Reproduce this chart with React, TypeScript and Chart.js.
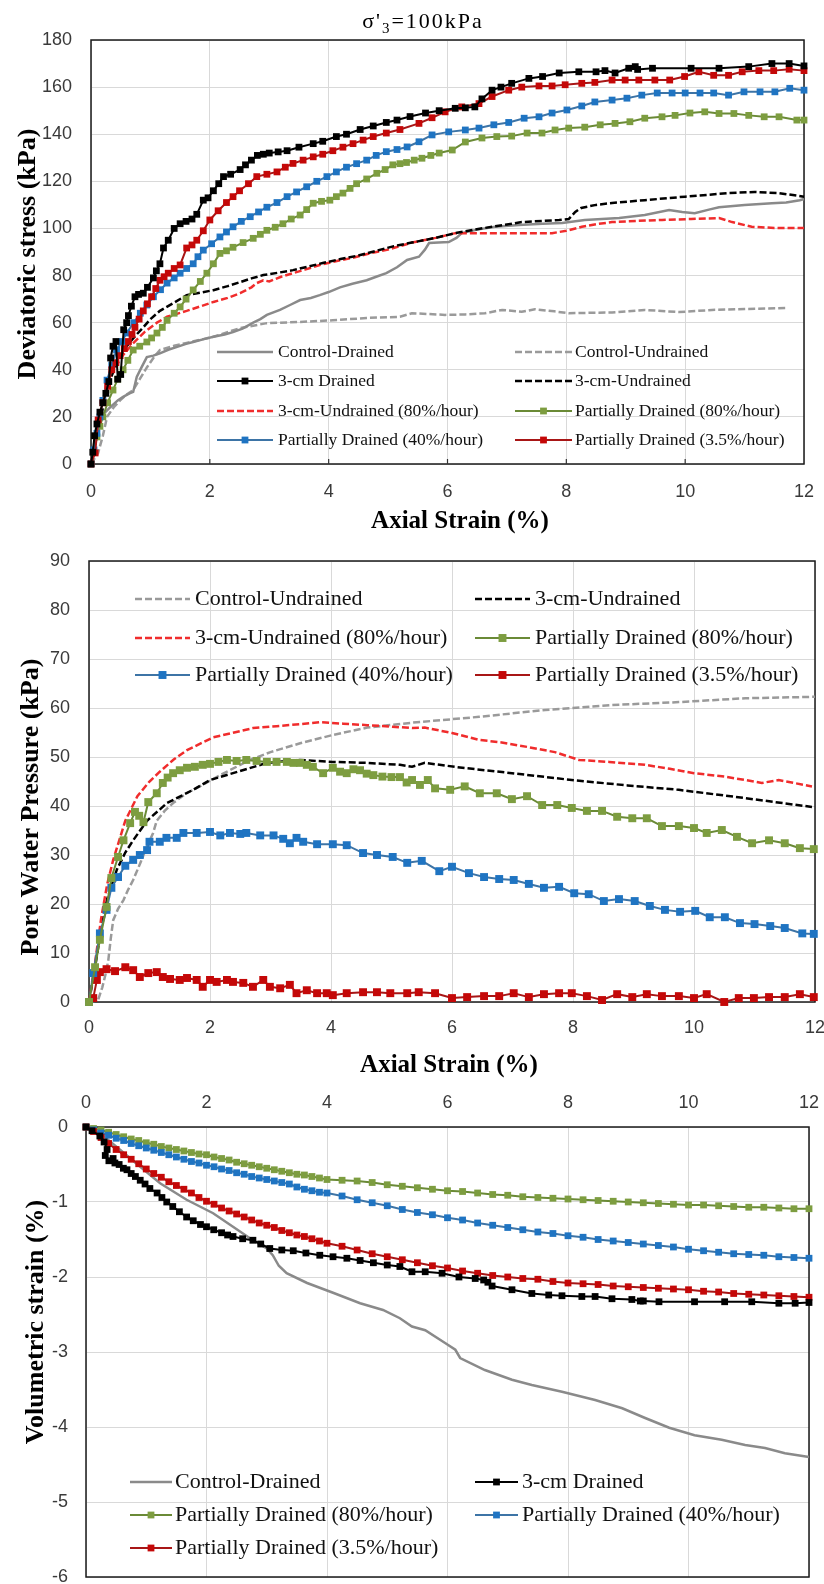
import { useEffect, useRef } from "react";
import { Chart, registerables } from "chart.js";

Chart.register(...registerables);

type Pt = [number, number];

// ---------------- Panel 1: Deviatoric stress (kPa) vs Axial strain (%) ----------------
const devControlDrained: Pt[] = [[0,0],[0.05,8],[0.1,18.7],[0.2,21],[0.32,24],[0.45,27],[0.54,28.5],[0.65,30],[0.71,30.6],[0.77,37],[0.85,41],[0.94,45.4],[1.05,46],[1.16,47],[1.3,48.5],[1.45,49.7],[1.6,51],[1.72,51.8],[1.9,53],[2.06,54],[2.25,55],[2.39,56],[2.55,57.5],[2.73,60],[2.85,61.5],[2.96,63.3],[3.18,65.4],[3.35,67.5],[3.52,69.6],[3.7,70.5],[3.85,71.7],[4.0,73],[4.19,75],[4.4,76.5],[4.64,78],[4.8,79.5],[4.97,81],[5.15,83.5],[5.32,86.6],[5.52,88],[5.62,91],[5.69,93.8],[5.85,94],[6.02,94.2],[6.15,96],[6.24,98],[6.5,99.5],[6.8,100.7],[7.2,101.5],[7.6,102],[7.93,102.3],[8.31,103.6],[8.6,104],[8.89,104.4],[9.32,105.7],[9.73,107.8],[9.95,107],[10.16,106.5],[10.4,108],[10.57,109],[11.0,110],[11.46,110.7],[11.7,111],[11.93,112],[12,112.5]];
const devControlUndrained: Pt[] = [[0,0],[0.12,4.7],[0.2,12],[0.27,20],[0.38,24],[0.49,27],[0.6,29.5],[0.71,31.4],[0.82,36],[0.94,41],[1.05,45],[1.16,48.4],[1.4,50.2],[1.61,51.4],[2.06,54],[2.51,57.7],[2.96,59.8],[3.52,60.3],[4.07,61],[4.64,62],[5.2,62.5],[5.4,64],[5.96,63.3],[6.3,63.5],[6.63,64],[6.92,65.4],[7.25,64.6],[7.47,65.7],[7.8,64.8],[8.04,64],[8.4,64.2],[8.77,64.3],[9.32,65.4],[9.9,64.5],[10.45,65.4],[11.0,65.8],[11.72,66.2]];
const dev3cmDrained: Pt[] = [[0,0],[0.03,5],[0.06,12],[0.1,17],[0.15,22],[0.2,26],[0.25,30],[0.3,35],[0.33,45],[0.37,50],[0.42,52],[0.45,36],[0.5,38],[0.55,57],[0.6,60],[0.63,63],[0.68,67],[0.74,71],[0.8,72],[0.88,72.5],[0.95,75],[1.05,79],[1.1,82],[1.16,85],[1.22,91.7],[1.3,95],[1.4,100],[1.5,102],[1.6,103],[1.7,104],[1.78,106],[1.89,112],[1.97,113],[2.06,116],[2.15,119],[2.23,122],[2.35,123],[2.51,125],[2.6,127],[2.7,129],[2.8,131],[2.9,131.5],[3.0,132],[3.15,132.5],[3.3,133],[3.5,134.5],[3.74,136],[3.9,137],[4.13,139],[4.3,140],[4.53,142],[4.75,143.5],[4.97,145],[5.15,146],[5.37,147.5],[5.63,149],[5.86,150],[6.13,151],[6.3,151.2],[6.46,151.6],[6.58,155],[6.75,158.7],[6.9,160],[7.08,161.6],[7.37,163.7],[7.6,164.5],[7.88,166],[8.21,166.5],[8.5,166.5],[8.65,167],[8.82,166],[9.05,168],[9.16,168.7],[9.2,167.5],[9.45,168],[10.1,168],[10.57,168],[11.07,168.7],[11.46,170],[11.75,170],[12,169]];
const dev3cmUndrained: Pt[] = [[0,0],[0.1,12],[0.2,24],[0.3,34],[0.4,41],[0.5,46],[0.6,50],[0.75,54.5],[0.88,58],[1.0,61.5],[1.16,65],[1.4,68.5],[1.61,71.7],[1.85,72.8],[2.06,73.8],[2.3,75.5],[2.51,77.2],[2.7,78.8],[2.9,80.2],[3.15,81.2],[3.4,82.3],[3.65,83.8],[3.9,85.3],[4.2,87],[4.5,88.5],[4.8,90.5],[5.1,92.5],[5.4,94],[5.8,96],[6.13,98],[6.45,99.5],[6.75,100.7],[7.0,101.7],[7.25,102.7],[7.6,103.2],[7.88,103.6],[8.04,104],[8.15,107],[8.25,108.7],[8.5,110],[8.77,110.8],[9.32,112],[10.0,113.5],[10.73,115],[11.17,115.5],[11.58,115],[12,113.5]];
const dev3cmUndrained80: Pt[] = [[0,0],[0.1,15],[0.2,27],[0.35,38],[0.5,45],[0.7,51],[0.9,56],[1.11,60],[1.28,62.5],[1.61,65],[1.85,67],[2.06,68.8],[2.3,70.5],[2.51,72.5],[2.7,75],[2.79,76.8],[2.9,78],[3.0,77.5],[3.2,79.5],[3.4,81],[3.6,82.5],[3.85,84.5],[4.1,86],[4.4,87.5],[4.7,89.5],[5.0,91],[5.4,94],[5.8,96],[6.13,98],[6.5,98],[6.8,98],[7.3,98],[7.76,98],[8.0,99],[8.26,100.7],[8.5,101.8],[8.77,102.7],[9.2,103.2],[9.61,103.6],[10.1,104],[10.57,104.4],[10.79,102.7],[11.12,100.7],[11.5,100.2],[12,100.2]];
const devPD80: Pt[] = [[0,0],[0.05,5],[0.1,11.5],[0.15,16],[0.2,20],[0.28,26],[0.37,31.4],[0.45,36],[0.54,40],[0.62,44],[0.71,48.4],[0.82,50],[0.94,51.8],[1.02,53.5],[1.11,55.6],[1.2,58],[1.28,61],[1.4,64],[1.5,66.7],[1.6,70],[1.72,73.9],[1.84,77.5],[1.95,81],[2.06,85],[2.17,89.4],[2.28,90.5],[2.39,92],[2.56,94],[2.73,95.8],[2.85,97.5],[2.96,99.2],[3.1,100.5],[3.23,102],[3.37,104],[3.52,105.7],[3.63,108],[3.74,110.7],[3.88,111.5],[4.02,112],[4.13,113.5],[4.24,115],[4.36,117],[4.47,119],[4.64,121],[4.81,123.4],[4.95,125],[5.08,127],[5.2,127.5],[5.31,128],[5.44,129],[5.57,129.8],[5.72,131],[5.86,132],[6.08,133.3],[6.3,136.7],[6.58,138.4],[6.83,139],[7.08,139.2],[7.34,140.5],[7.59,140.5],[7.81,141.8],[8.04,142.6],[8.31,143],[8.57,144],[8.82,144.6],[9.07,145.3],[9.32,146.8],[9.61,147.4],[9.83,148],[10.08,149],[10.33,149.5],[10.57,148.8],[10.82,148.8],[11.07,148],[11.33,147.4],[11.58,147.4],[11.88,146],[12,146]];
const devPD40: Pt[] = [[0,0],[0.05,6],[0.1,13],[0.15,20],[0.2,27],[0.27,35.6],[0.35,42],[0.43,48.4],[0.52,52],[0.6,55.6],[0.72,60],[0.83,64],[0.94,67.5],[1.05,71],[1.17,74],[1.28,76.8],[1.4,79],[1.5,81],[1.61,83],[1.72,85],[1.8,88],[1.89,90.8],[2.03,93.5],[2.17,96.4],[2.28,98.5],[2.39,100.7],[2.53,103],[2.68,105],[2.82,107],[2.96,109],[3.13,111],[3.3,113.5],[3.46,115.5],[3.63,117.7],[3.8,120],[3.97,122],[4.13,124],[4.3,126],[4.47,127.5],[4.64,129],[4.8,131],[4.97,132.6],[5.15,133.5],[5.32,134.6],[5.52,136.8],[5.74,139.7],[6.02,141],[6.3,141.8],[6.53,142.6],[6.78,144],[7.03,145],[7.29,146.8],[7.54,147.4],[7.76,149],[8.01,150.3],[8.26,152],[8.48,153.7],[8.77,154.5],[9.02,155.3],[9.27,156.6],[9.53,157.5],[9.78,157.5],[10.0,157.5],[10.25,157.5],[10.48,157.5],[10.73,156.6],[10.99,158],[11.26,158],[11.51,158],[11.76,159.5],[12,158.7]];
const devPD35: Pt[] = [[0,0],[0.07,4.7],[0.12,18.7],[0.2,26],[0.28,33],[0.35,40],[0.42,43],[0.49,46],[0.56,49],[0.63,52],[0.69,55],[0.74,58],[0.81,61.5],[0.88,65],[0.95,68],[1.02,71],[1.09,74.5],[1.16,78],[1.23,79.5],[1.3,81],[1.4,83],[1.5,84.5],[1.61,91.7],[1.7,93],[1.78,95],[1.89,99],[2.0,103.6],[2.14,107.5],[2.28,111],[2.39,113.5],[2.5,116],[2.65,119],[2.79,122],[2.96,123],[3.13,124],[3.27,126],[3.4,127.6],[3.57,129],[3.74,130.4],[3.9,131.5],[4.07,133],[4.24,134.5],[4.41,136],[4.58,137.5],[4.75,139],[4.97,140.5],[5.2,142],[5.52,144.6],[5.74,147],[5.96,149.5],[6.24,151.6],[6.53,153],[6.75,156],[7.03,158.7],[7.25,160],[7.54,160.5],[7.76,160.5],[7.98,161],[8.26,161.6],[8.48,162],[8.77,163],[8.99,163],[9.22,163],[9.49,163],[9.74,163],[9.99,164.5],[10.23,166.5],[10.48,165],[10.73,165],[10.96,166.5],[11.24,167],[11.49,167],[11.75,167.6],[12,167]];

// ---------------- Panel 2: Pore water pressure (kPa) vs Axial strain (%) ----------------
const pwpControlUndrained: Pt[] = [[0,0],[0.15,0.4],[0.22,3],[0.28,6],[0.32,8.6],[0.36,13],[0.4,16.7],[0.48,19],[0.57,20.8],[0.65,23],[0.73,24.9],[0.85,28.4],[0.95,31.5],[1.06,34.5],[1.12,37],[1.25,39],[1.39,40.6],[1.6,42.5],[1.83,44],[2.2,46.5],[2.66,49.4],[3.0,51],[3.49,52.8],[4.03,54.5],[4.6,56],[5.34,57],[6.45,58.2],[7.54,59.6],[8.64,60.6],[9.75,61.2],[10.85,62],[11.7,62.2],[12,62.3]];
const pwp3cmUndrained: Pt[] = [[0,0],[0.1,7],[0.2,15],[0.3,21],[0.46,27],[0.6,30.5],[0.73,33],[0.96,37],[1.29,40.6],[1.72,43.3],[2.0,45.3],[2.38,46.7],[2.94,48.8],[3.49,49.4],[4.03,49],[4.6,48.8],[5.14,48.4],[5.34,48],[5.55,48.8],[6.17,47.8],[6.99,46.7],[7.98,45.3],[8.9,44.2],[9.75,43.3],[10.85,41.6],[11.95,39.8]];
const pwp3cmUndrained80: Pt[] = [[0,0],[0.1,8],[0.2,17],[0.3,24],[0.4,29],[0.5,33],[0.6,37],[0.8,42],[1.0,45],[1.17,47],[1.4,49.5],[1.62,51.4],[2.05,54],[2.4,55],[2.71,55.9],[3.1,56.3],[3.49,56.7],[3.82,57.1],[4.2,56.8],[4.6,56.5],[5.0,56.2],[5.34,55.9],[5.55,56],[6.0,54.9],[6.45,53.5],[6.8,53],[7.27,52],[7.7,51],[8.1,49.4],[8.6,49],[9.19,48.4],[9.6,47.6],[10.0,46.7],[10.5,46],[10.85,45.3],[11.12,44.7],[11.4,45.3],[11.95,44]];
const pwpPD80: Pt[] = [[0,0],[0.1,7.1],[0.18,12.7],[0.29,19.4],[0.37,25.3],[0.48,29.6],[0.57,33],[0.68,36.5],[0.76,38.8],[0.83,38],[0.9,36.7],[0.98,40.8],[1.12,42.6],[1.22,44.7],[1.3,45.8],[1.39,46.7],[1.5,47.3],[1.62,47.8],[1.75,48],[1.88,48.4],[2.0,48.6],[2.14,49],[2.28,49.4],[2.44,49.2],[2.6,49.4],[2.77,49.2],[2.94,49],[3.1,49],[3.27,49],[3.38,48.8],[3.49,48.8],[3.6,48.4],[3.7,48],[3.87,46.7],[4.03,47.8],[4.15,47],[4.26,46.7],[4.37,47.5],[4.48,47.3],[4.59,46.6],[4.7,46.3],[4.85,46],[5.0,45.9],[5.14,45.9],[5.25,44.8],[5.34,45.3],[5.47,44.3],[5.6,45.3],[5.72,43.6],[5.97,43.3],[6.21,44],[6.46,42.6],[6.74,42.6],[6.99,41.4],[7.24,42],[7.49,40.2],[7.74,40.2],[7.98,39.6],[8.23,39],[8.48,39],[8.73,37.8],[8.98,37.5],[9.22,37.5],[9.47,35.9],[9.75,35.9],[10.0,35.5],[10.21,34.5],[10.46,35.1],[10.71,33.7],[10.96,32.4],[11.24,33],[11.5,32.4],[11.75,31.4],[11.98,31.2]];
const pwpPD40: Pt[] = [[0,0],[0.07,5.9],[0.18,14],[0.29,18.8],[0.37,23.3],[0.48,25.5],[0.6,27.8],[0.73,29],[0.84,30],[0.96,31],[1.0,32.7],[1.17,32.7],[1.28,33.5],[1.45,33.5],[1.56,34.5],[1.78,34.5],[2.0,34.7],[2.17,34],[2.33,34.5],[2.5,34.3],[2.6,34.5],[2.83,34],[3.05,34],[3.21,33.3],[3.32,32.4],[3.43,33.5],[3.54,32.7],[3.77,32.2],[4.03,32.2],[4.26,32],[4.53,30.4],[4.76,30],[5.02,29.6],[5.26,28.4],[5.5,28.8],[5.79,26.7],[6.0,27.6],[6.28,26.3],[6.53,25.5],[6.78,25.1],[7.02,24.9],[7.27,24.1],[7.52,23.3],[7.77,23.5],[8.02,22.2],[8.26,22],[8.51,20.6],[8.76,21],[9.02,20.6],[9.27,19.6],[9.52,18.8],[9.77,18.4],[10.02,18.6],[10.26,17.3],[10.51,17.3],[10.76,16.1],[11.0,15.9],[11.26,15.5],[11.5,15.1],[11.79,14],[11.98,13.9]];
const pwpPD35: Pt[] = [[0,0],[0.07,0.8],[0.13,4.5],[0.18,6.1],[0.29,6.7],[0.43,6.3],[0.6,7.1],[0.73,6.5],[0.84,5.1],[0.98,5.9],[1.12,6.1],[1.22,5.1],[1.34,4.7],[1.5,4.5],[1.62,4.9],[1.78,4.5],[1.88,3.1],[2.0,4.5],[2.11,4.1],[2.28,4.5],[2.38,4.1],[2.55,3.9],[2.71,3.1],[2.88,4.5],[2.99,3.1],[3.16,2.8],[3.32,3.5],[3.43,1.8],[3.6,2.4],[3.77,1.8],[3.93,1.8],[4.03,1.4],[4.26,1.8],[4.53,2.0],[4.76,2.0],[4.98,1.8],[5.26,1.8],[5.45,2.0],[5.72,1.8],[6.0,0.8],[6.25,1.0],[6.53,1.2],[6.78,1.2],[7.02,1.8],[7.27,1.0],[7.52,1.6],[7.77,1.8],[7.98,1.8],[8.23,1.2],[8.48,0.4],[8.73,1.6],[8.98,1.0],[9.22,1.6],[9.47,1.2],[9.75,1.2],[10.0,0.8],[10.21,1.6],[10.5,0],[10.74,0.8],[10.99,0.8],[11.24,1.0],[11.5,1.0],[11.75,1.6],[11.98,1.0]];

// ---------------- Panel 3: Volumetric strain (%) vs Axial strain (%) ----------------
const volStrainX = [0,0.125,0.25,0.375,0.5,0.625,0.75,0.875,1,1.125,1.25,1.375,1.5,1.625,1.75,1.875,2,2.125,2.25,2.375,2.5,2.625,2.75,2.875,3,3.125,3.25,3.375,3.5,3.625,3.75,3.875,4,4.25,4.5,4.75,5,5.25,5.5,5.75,6,6.25,6.5,6.75,7,7.25,7.5,7.75,8,8.25,8.5,8.75,9,9.25,9.5,9.75,10,10.25,10.5,10.75,11,11.25,11.5,11.75,12];
const volPD80 = [0,-0.02,-0.04,-0.07,-0.10,-0.13,-0.16,-0.18,-0.21,-0.23,-0.26,-0.28,-0.30,-0.32,-0.34,-0.36,-0.37,-0.40,-0.42,-0.44,-0.47,-0.49,-0.51,-0.53,-0.55,-0.57,-0.59,-0.61,-0.63,-0.64,-0.66,-0.68,-0.70,-0.71,-0.72,-0.74,-0.77,-0.79,-0.81,-0.83,-0.85,-0.86,-0.88,-0.90,-0.91,-0.93,-0.94,-0.95,-0.96,-0.97,-0.98,-0.99,-1.00,-1.01,-1.02,-1.03,-1.04,-1.04,-1.05,-1.06,-1.07,-1.07,-1.08,-1.09,-1.09];
const volPD40 = [0,-0.04,-0.08,-0.11,-0.15,-0.18,-0.22,-0.25,-0.28,-0.31,-0.34,-0.37,-0.40,-0.43,-0.46,-0.48,-0.51,-0.53,-0.56,-0.58,-0.61,-0.63,-0.66,-0.68,-0.70,-0.72,-0.74,-0.76,-0.80,-0.83,-0.85,-0.87,-0.88,-0.92,-0.97,-1.01,-1.05,-1.10,-1.14,-1.17,-1.21,-1.24,-1.28,-1.31,-1.34,-1.37,-1.40,-1.42,-1.45,-1.47,-1.50,-1.52,-1.54,-1.56,-1.58,-1.60,-1.63,-1.65,-1.67,-1.69,-1.70,-1.71,-1.73,-1.74,-1.75];
const volPD35 = [0,-0.06,-0.14,-0.22,-0.30,-0.37,-0.43,-0.49,-0.56,-0.62,-0.67,-0.73,-0.78,-0.83,-0.88,-0.94,-0.99,-1.03,-1.08,-1.12,-1.16,-1.20,-1.24,-1.28,-1.31,-1.34,-1.38,-1.41,-1.44,-1.46,-1.49,-1.52,-1.55,-1.59,-1.64,-1.69,-1.73,-1.77,-1.81,-1.85,-1.88,-1.92,-1.95,-1.98,-2.00,-2.02,-2.03,-2.06,-2.08,-2.09,-2.10,-2.12,-2.13,-2.14,-2.15,-2.16,-2.17,-2.19,-2.20,-2.22,-2.23,-2.24,-2.25,-2.26,-2.27];
const vol3cmDrained: Pt[] = [[0,0],[0.1,-0.05],[0.23,-0.12],[0.3,-0.2],[0.35,-0.3],[0.32,-0.38],[0.38,-0.45],[0.45,-0.42],[0.48,-0.48],[0.55,-0.5],[0.62,-0.55],[0.68,-0.57],[0.75,-0.62],[0.82,-0.66],[0.9,-0.71],[0.98,-0.76],[1.06,-0.82],[1.18,-0.88],[1.26,-0.94],[1.34,-1.0],[1.44,-1.06],[1.55,-1.13],[1.67,-1.2],[1.78,-1.25],[1.9,-1.3],[2.0,-1.33],[2.12,-1.37],[2.25,-1.41],[2.35,-1.44],[2.44,-1.46],[2.6,-1.49],[2.77,-1.51],[2.9,-1.56],[3.05,-1.62],[3.25,-1.64],[3.44,-1.65],[3.65,-1.68],[3.88,-1.71],[4.1,-1.73],[4.33,-1.75],[4.55,-1.78],[4.77,-1.81],[5.0,-1.84],[5.21,-1.86],[5.41,-1.93],[5.63,-1.93],[5.91,-1.95],[6.19,-2.0],[6.46,-2.02],[6.6,-2.04],[6.67,-2.07],[6.74,-2.12],[7.07,-2.17],[7.4,-2.22],[7.68,-2.24],[7.9,-2.25],[8.23,-2.26],[8.45,-2.26],[8.73,-2.29],[9.06,-2.3],[9.2,-2.32],[9.25,-2.32],[9.51,-2.33],[10.1,-2.33],[10.6,-2.33],[11.05,-2.33],[11.5,-2.35],[11.77,-2.35],[12,-2.34]];
const volControlDrained: Pt[] = [[0,0],[0.23,-0.08],[0.56,-0.3],[0.9,-0.53],[1.23,-0.75],[1.67,-0.97],[2.11,-1.15],[2.44,-1.33],[2.77,-1.51],[3.0,-1.62],[3.1,-1.71],[3.2,-1.85],[3.33,-1.95],[3.67,-2.08],[4.1,-2.21],[4.55,-2.35],[4.93,-2.44],[5.21,-2.55],[5.41,-2.66],[5.63,-2.71],[5.96,-2.88],[6.13,-2.97],[6.21,-3.08],[6.62,-3.24],[7.07,-3.37],[7.4,-3.44],[7.9,-3.53],[8.45,-3.64],[8.9,-3.75],[9.28,-3.88],[9.68,-4.01],[10.1,-4.11],[10.55,-4.17],[10.94,-4.24],[11.27,-4.28],[11.6,-4.35],[12,-4.4]];

// ---------------- styles ----------------
const SANS = '"Liberation Sans", Arial, sans-serif';
const SERIF = '"Liberation Serif", "Times New Roman", serif';
const W = 824;

interface Style { color: string; width: number; dash?: number[]; marker?: string }
const STYLES: Record<string, Style> = {
  controlDrained: { color: "#8a8a8a", width: 2.5 },
  controlUndrained: { color: "#9a9a9a", width: 2.5, dash: [7, 3] },
  cmDrained: { color: "#000000", width: 2, marker: "#000000" },
  cmUndrained: { color: "#000000", width: 2.5, dash: [7, 3] },
  cmUndrained80: { color: "#f02c2c", width: 2.5, dash: [7, 3] },
  pd80: { color: "#6a8a36", width: 2, marker: "#7d9d40" },
  pd40: { color: "#3d74a6", width: 2, marker: "#1f74c2" },
  pd35: { color: "#a81616", width: 2, marker: "#c40808" },
};

const toXY = (pts: Pt[]) => pts.map(([x, y]) => ({ x, y }));
const zipXY = (xs: number[], ys: number[]) => xs.map((x, i) => ({ x, y: ys[i] }));

function ds(label: string, data: { x: number; y: number }[], key: string, r: number) {
  const st = STYLES[key];
  return {
    label,
    data,
    showLine: true,
    borderColor: st.color,
    borderWidth: st.width,
    borderDash: st.dash || [],
    pointRadius: st.marker ? r : 0,
    pointHoverRadius: 0,
    pointStyle: "rect",
    pointBackgroundColor: st.marker || st.color,
    pointBorderColor: st.marker || st.color,
    pointBorderWidth: 0,
    tension: 0,
    fill: false,
    clip: false as any,
  };
}

interface LegendItem { label: string; key: string; col: number; row: number }
interface LegendCfg { items: LegendItem[]; lineX: number[]; lineLen: number[]; textX: number[]; rowY: number[]; font: number; r: number }

function drawLegend(ctx: CanvasRenderingContext2D, lg: LegendCfg) {
  for (const it of lg.items) {
    const st = STYLES[it.key];
    const x0 = lg.lineX[it.col];
    const x1 = x0 + lg.lineLen[it.col];
    const y = lg.rowY[it.row];
    ctx.save();
    ctx.strokeStyle = st.color;
    ctx.lineWidth = st.width;
    ctx.setLineDash(st.dash || []);
    ctx.beginPath();
    ctx.moveTo(x0, y);
    ctx.lineTo(x1, y);
    ctx.stroke();
    ctx.restore();
    if (st.marker) {
      const s = lg.r * Math.SQRT2;
      ctx.fillStyle = st.marker;
      ctx.fillRect((x0 + x1) / 2 - s / 2, y - s / 2, s, s);
    }
    ctx.fillStyle = "#111";
    ctx.font = `${lg.font}px ${SERIF}`;
    ctx.textAlign = "left";
    ctx.textBaseline = "middle";
    ctx.fillText(it.label, lg.textX[it.col], y);
  }
}

function drawRotated(ctx: CanvasRenderingContext2D, text: string, x: number, cy: number, size: number) {
  ctx.save();
  ctx.translate(x, cy);
  ctx.rotate(-Math.PI / 2);
  ctx.font = `bold ${size}px ${SERIF}`;
  ctx.fillStyle = "#000";
  ctx.textAlign = "center";
  ctx.textBaseline = "alphabetic";
  ctx.fillText(text, 0, 0);
  ctx.restore();
}

function drawHoriz(ctx: CanvasRenderingContext2D, text: string, cx: number, y: number, size: number) {
  ctx.save();
  ctx.font = `bold ${size}px ${SERIF}`;
  ctx.fillStyle = "#000";
  ctx.textAlign = "center";
  ctx.textBaseline = "alphabetic";
  ctx.fillText(text, cx, y);
  ctx.restore();
}

function drawSigmaTitle(ctx: CanvasRenderingContext2D, cx: number, baseline: number) {
  ctx.save();
  const big = `22px ${SERIF}`;
  const small = `15px ${SERIF}`;
  (ctx as any).letterSpacing = "2px";
  ctx.font = big;
  const w1 = ctx.measureText("σ'").width;
  const w3 = ctx.measureText("=100kPa").width;
  ctx.font = small;
  const w2 = ctx.measureText("3").width;
  let x = cx - (w1 + w2 + w3) / 2;
  ctx.fillStyle = "#000";
  ctx.textAlign = "left";
  ctx.textBaseline = "alphabetic";
  ctx.font = big;
  ctx.fillText("σ'", x, baseline);
  x += w1;
  ctx.font = small;
  ctx.fillText("3", x, baseline + 5);
  x += w2;
  ctx.font = big;
  ctx.fillText("=100kPa", x, baseline);
  ctx.restore();
}

interface Panel {
  top: number;
  height: number;
  area: { left: number; top: number; right: number; bottom: number };
  xPos: "top" | "bottom";
  xPad: number;
  yMin: number;
  yMax: number;
  yStep: number;
  yPad: number;
  datasets: any[];
  legend: LegendCfg;
  texts: (ctx: CanvasRenderingContext2D, chart: any) => void;
}

const PANELS: Panel[] = [
  {
    top: 0,
    height: 545,
    area: { left: 91, top: 40, right: 804, bottom: 464 },
    xPos: "bottom",
    xPad: 17,
    yMin: 0,
    yMax: 180,
    yStep: 20,
    yPad: 19,
    datasets: [
      ds("3-cm Drained", toXY(dev3cmDrained), "cmDrained", 4.8),
      ds("Partially Drained (3.5%/hour)", toXY(devPD35), "pd35", 4.8),
      ds("Partially Drained (40%/hour)", toXY(devPD40), "pd40", 4.8),
      ds("Partially Drained (80%/hour)", toXY(devPD80), "pd80", 4.8),
      ds("3-cm-Undrained", toXY(dev3cmUndrained), "cmUndrained", 4.8),
      ds("3-cm-Undrained (80%/hour)", toXY(dev3cmUndrained80), "cmUndrained80", 4.8),
      ds("Control-Drained", toXY(devControlDrained), "controlDrained", 4.8),
      ds("Control-Undrained", toXY(devControlUndrained), "controlUndrained", 4.8),
    ],
    legend: {
      items: [
        { label: "Control-Drained", key: "controlDrained", col: 0, row: 0 },
        { label: "Control-Undrained", key: "controlUndrained", col: 1, row: 0 },
        { label: "3-cm Drained", key: "cmDrained", col: 0, row: 1 },
        { label: "3-cm-Undrained", key: "cmUndrained", col: 1, row: 1 },
        { label: "3-cm-Undrained (80%/hour)", key: "cmUndrained80", col: 0, row: 2 },
        { label: "Partially Drained (80%/hour)", key: "pd80", col: 1, row: 2 },
        { label: "Partially Drained (40%/hour)", key: "pd40", col: 0, row: 3 },
        { label: "Partially Drained (3.5%/hour)", key: "pd35", col: 1, row: 3 },
      ],
      lineX: [217, 515],
      lineLen: [56, 57],
      textX: [278, 575],
      rowY: [352, 381, 411, 440],
      font: 17.5,
      r: 4.8,
    },
    texts: (ctx, chart) => {
      drawSigmaTitle(ctx, 423, 28);
      drawHoriz(ctx, "Axial Strain (%)", 460, 528, 25);
      drawRotated(ctx, "Deviatoric stress (kPa)", 35, 254, 26);
      const a = chart.chartArea;
      ctx.save();
      ctx.strokeStyle = "#333";
      ctx.lineWidth = 1.2;
      for (const v of [2, 4, 6, 8, 10]) {
        const x = chart.scales.x.getPixelForValue(v);
        ctx.beginPath();
        ctx.moveTo(x, a.bottom);
        ctx.lineTo(x, a.bottom - 5);
        ctx.stroke();
      }
      ctx.restore();
    },
  },
  {
    top: 545,
    height: 535,
    area: { left: 89, top: 16, right: 815, bottom: 457 },
    xPos: "bottom",
    xPad: 15,
    yMin: 0,
    yMax: 90,
    yStep: 10,
    yPad: 19,
    datasets: [
      ds("Partially Drained (80%/hour)", toXY(pwpPD80), "pd80", 5.6),
      ds("Partially Drained (40%/hour)", toXY(pwpPD40), "pd40", 5.6),
      ds("Partially Drained (3.5%/hour)", toXY(pwpPD35), "pd35", 5.6),
      ds("3-cm-Undrained (80%/hour)", toXY(pwp3cmUndrained80), "cmUndrained80", 5.6),
      ds("3-cm-Undrained", toXY(pwp3cmUndrained), "cmUndrained", 5.6),
      ds("Control-Undrained", toXY(pwpControlUndrained), "controlUndrained", 5.6),
    ],
    legend: {
      items: [
        { label: "Control-Undrained", key: "controlUndrained", col: 0, row: 0 },
        { label: "3-cm-Undrained", key: "cmUndrained", col: 1, row: 0 },
        { label: "3-cm-Undrained (80%/hour)", key: "cmUndrained80", col: 0, row: 1 },
        { label: "Partially Drained (80%/hour)", key: "pd80", col: 1, row: 1 },
        { label: "Partially Drained (40%/hour)", key: "pd40", col: 0, row: 2 },
        { label: "Partially Drained (3.5%/hour)", key: "pd35", col: 1, row: 2 },
      ],
      lineX: [135, 475],
      lineLen: [55, 55],
      textX: [195, 535],
      rowY: [54, 93, 130],
      font: 22,
      r: 5.6,
    },
    texts: (ctx) => {
      drawHoriz(ctx, "Axial Strain (%)", 449, 527, 25);
      drawRotated(ctx, "Pore Water Pressure (kPa)", 38, 262, 26);
    },
  },
  {
    top: 1080,
    height: 504,
    area: { left: 86, top: 47, right: 809, bottom: 497 },
    xPos: "top",
    xPad: 13,
    yMin: -6,
    yMax: 0,
    yStep: 1,
    yPad: 18,
    datasets: [
      ds("3-cm Drained", toXY(vol3cmDrained), "cmDrained", 4.8),
      ds("Partially Drained (3.5%/hour)", zipXY(volStrainX, volPD35), "pd35", 4.8),
      ds("Partially Drained (40%/hour)", zipXY(volStrainX, volPD40), "pd40", 4.8),
      ds("Partially Drained (80%/hour)", zipXY(volStrainX, volPD80), "pd80", 4.8),
      ds("Control-Drained", toXY(volControlDrained), "controlDrained", 4.8),
    ],
    legend: {
      items: [
        { label: "Control-Drained", key: "controlDrained", col: 0, row: 0 },
        { label: "3-cm Drained", key: "cmDrained", col: 1, row: 0 },
        { label: "Partially Drained (80%/hour)", key: "pd80", col: 0, row: 1 },
        { label: "Partially Drained (40%/hour)", key: "pd40", col: 1, row: 1 },
        { label: "Partially Drained (3.5%/hour)", key: "pd35", col: 0, row: 2 },
      ],
      lineX: [130, 475],
      lineLen: [42, 43],
      textX: [175, 522],
      rowY: [402, 435, 468],
      font: 22,
      r: 4.8,
    },
    texts: (ctx) => {
      drawRotated(ctx, "Volumetric strain (%)", 43, 242, 26);
    },
  },
];

function makeChart(canvas: HTMLCanvasElement, p: Panel) {
  const tickFont = { family: SANS, size: 18 };
  const plugin = {
    id: "panelDecor",
    beforeDatasetsDraw(chart: any) {
      const { ctx, chartArea: a } = chart;
      ctx.save();
      ctx.strokeStyle = "#1a1a1a";
      ctx.lineWidth = 1.5;
      ctx.strokeRect(a.left, a.top, a.right - a.left, a.bottom - a.top);
      ctx.restore();
    },
    afterDatasetsDraw(chart: any) {
      drawLegend(chart.ctx, p.legend);
    },
    afterDraw(chart: any) {
      p.texts(chart.ctx, chart);
    },
  };
  return new Chart(canvas, {
    type: "scatter",
    data: { datasets: p.datasets },
    options: {
      animation: false,
      responsive: false,
      maintainAspectRatio: false,
      devicePixelRatio: 1,
      events: [],
      layout: {
        padding: {
          left: 0,
          top: p.xPos === "top" ? 0 : p.area.top,
          right: W - p.area.right,
          bottom: p.xPos === "bottom" ? 0 : p.height - p.area.bottom,
        },
      },
      plugins: { legend: { display: false }, tooltip: { enabled: false }, title: { display: false } },
      scales: {
        x: {
          type: "linear",
          position: p.xPos,
          min: 0,
          max: 12,
          ticks: { stepSize: 2, padding: p.xPad, font: tickFont, color: "#3a3a3a", maxRotation: 0, autoSkip: false },
          grid: { color: "#d9d9d9", lineWidth: 1, drawTicks: false },
          border: { display: false },
          afterFit: (s: any) => {
            s.height = p.xPos === "bottom" ? p.height - p.area.bottom : p.area.top;
            s.paddingLeft = 0;
            s.paddingRight = 0;
          },
        },
        y: {
          type: "linear",
          min: p.yMin,
          max: p.yMax,
          ticks: { stepSize: p.yStep, padding: p.yPad, font: tickFont, color: "#3a3a3a", autoSkip: false },
          grid: { color: "#d9d9d9", lineWidth: 1, drawTicks: false },
          border: { display: false },
          afterFit: (s: any) => {
            s.width = p.area.left;
            s.paddingTop = 0;
            s.paddingBottom = 0;
          },
        },
      },
    } as any,
    plugins: [plugin],
  });
}

export default function App() {
  const refs = useRef<(HTMLCanvasElement | null)[]>([]);
  useEffect(() => {
    const charts = PANELS.map((p, i) => makeChart(refs.current[i] as HTMLCanvasElement, p));
    return () => charts.forEach((c) => c.destroy());
  }, []);
  return (
    <div style={{ position: "absolute", left: 0, top: 0, width: W, height: 1584, background: "#fff" }}>
      {PANELS.map((p, i) => (
        <canvas
          key={i}
          ref={(el) => {
            refs.current[i] = el;
          }}
          width={W}
          height={p.height}
          style={{ position: "absolute", left: 0, top: p.top, width: W, height: p.height }}
        />
      ))}
    </div>
  );
}
